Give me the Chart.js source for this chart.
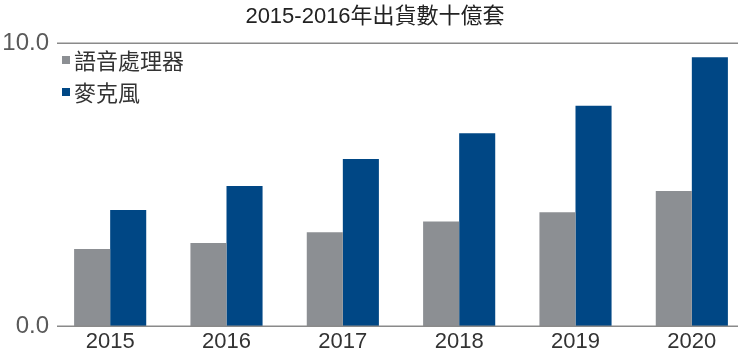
<!DOCTYPE html>
<html>
<head>
<meta charset="utf-8">
<script src="https://cdn.jsdelivr.net/npm/chart.js@4/dist/chart.umd.min.js"></script>
<style>
  html, body { margin: 0; padding: 0; background: #fff; }
  canvas { display: block; }
</style>
</head>
<body>
<canvas id="c" width="750" height="357"></canvas>
<script>
const titleText = "2015-2016年出貨數十億套";
const categories = ["2015", "2016", "2017", "2018", "2019", "2020"];
const seriesNames = ["語音處理器", "麥克風"];
const processorValues = [2.72, 2.93, 3.31, 3.69, 4.02, 4.77];
const micValues = [4.1, 4.95, 5.9, 6.81, 7.78, 9.5];
const yTicks = [0, 10];

const colors = ["#8c8f93", "#004785"];
const FONT = '"Liberation Sans", "Noto Sans CJK TC", sans-serif';

const decor = {
  id: 'decor',
  afterDatasetsDraw(chart) {
    const ctx = chart.ctx;
    const y = chart.scales.y;
    ctx.save();
    ctx.strokeStyle = '#8a8a8a';
    ctx.lineWidth = 1.5;
    yTicks.forEach(v => {
      const py = Math.round(y.getPixelForValue(v)) + 0.25;
      ctx.beginPath();
      ctx.moveTo(57, py);
      ctx.lineTo(738, py);
      ctx.stroke();
    });
    ctx.font = '22px "Noto Sans CJK TC", sans-serif';
    ctx.textBaseline = 'middle';
    ctx.textAlign = 'left';
    chart.data.datasets.forEach((ds, i) => {
      const cy = 60 + i * 32;
      ctx.fillStyle = ds.backgroundColor;
      ctx.fillRect(62, cy - 4, 8, 8);
      ctx.fillStyle = '#333';
      ctx.fillText(ds.label, 74, cy + 1);
    });
    ctx.restore();
  }
};

new Chart(document.getElementById('c'), {
  type: 'bar',
  data: {
    labels: categories,
    datasets: [
      { label: seriesNames[0], data: processorValues, backgroundColor: colors[0] },
      { label: seriesNames[1], data: micValues, backgroundColor: colors[1] }
    ]
  },
  options: {
    responsive: false,
    animation: false,
    devicePixelRatio: 1,
    layout: { padding: 0 },
    datasets: { bar: { categoryPercentage: 0.62, barPercentage: 1.0 } },
    plugins: {
      legend: { display: false },
      tooltip: { enabled: false },
      title: {
        display: true,
        text: titleText,
        color: '#222',
        font: { family: FONT, size: 22, weight: 'normal' },
        padding: { top: 4, bottom: 12.6 }
      }
    },
    scales: {
      x: {
        grid: { display: false, drawTicks: false },
        border: { display: false },
        ticks: { color: '#333', font: { family: FONT, size: 22 }, padding: 3 },
        afterFit(scale) { scale.height = 31; }
      },
      y: {
        min: 0,
        max: 10,
        afterBuildTicks(scale) { scale.ticks = yTicks.map(v => ({ value: v })); },
        grid: { display: false, drawTicks: false },
        border: { display: false },
        ticks: {
          color: '#5a5a5a',
          font: { family: FONT, size: 24 },
          padding: 3,
          callback: v => Number(v).toFixed(1)
        },
        afterFit(scale) { scale.width = 52; }
      }
    }
  },
  plugins: [decor]
});
</script>
</body>
</html>
